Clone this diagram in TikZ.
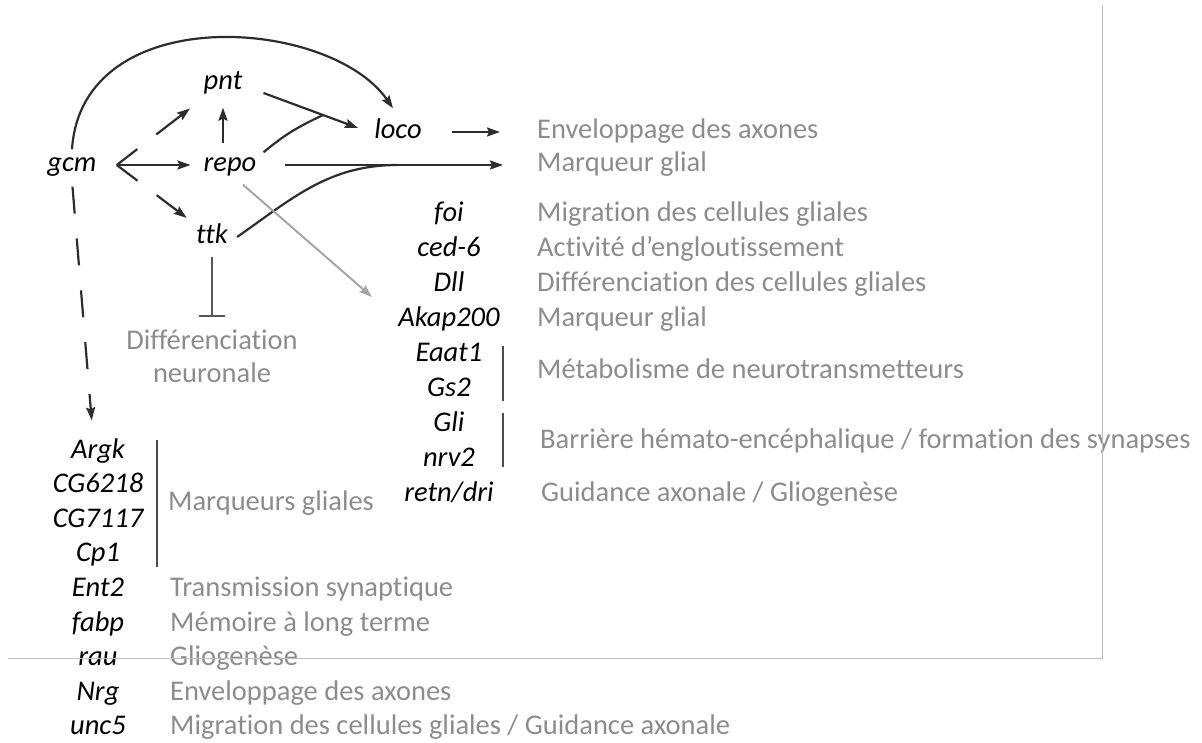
\documentclass[tikz,border=0pt]{standalone}
\usepackage{fontspec}
\setmainfont{Carlito}[Ligatures=CommonOff]
\usetikzlibrary{arrows.meta,positioning,calc}

\definecolor{ink}{RGB}{45,45,45}
\definecolor{notegray}{RGB}{140,140,140}
\definecolor{arrowgray}{RGB}{165,165,165}
\definecolor{framegray}{RGB}{190,190,190}
\newcommand{\diagfont}{\fontsize{28.5}{33}\selectfont}

\begin{document}
\begin{tikzpicture}[
    x=1pt, y=1pt,
    node distance=3.6pt,
    gene/.style={font=\diagfont\itshape, inner sep=2pt, text height=20pt, text depth=7pt},
    note/.style={font=\diagfont, text=notegray, anchor=west, inner sep=0pt, text height=20pt, text depth=7pt},
    link/.style={-{Stealth[length=13pt,width=9pt,inset=2pt]}, line width=2.2pt, draw=ink},
    wire/.style={line width=2.2pt, draw=ink},
    gapped/.style={dash pattern=on 26pt off 24pt on 200pt off 24pt},
    glink/.style={-{Stealth[length=13pt,width=9pt,inset=2pt]}, line width=2pt, draw=arrowgray},
    block/.style={-{Bar[width=26pt]}, line width=2.2pt, draw=ink!80},
    brace/.style={line width=2.2pt, draw=ink!85},
    frame/.style={draw=framegray, line width=0.8pt}
]
\useasboundingbox (0,0) rectangle (1202,742);

% regulators
\node[gene] (gcm) at (72,577) {gcm};
\node[gene] (pnt) at (223,659) {pnt};
\node[gene] (repo) at (230,577) {repo};
\node[gene] (loco) at (398,610) {loco};
\node[gene] (ttk) at (212,505) {ttk};
\node[font=\diagfont, text=notegray, align=center, inner sep=0pt] (diffn) at (212,386) {Différenciation\\neuronale};

\coordinate (labx) at (537,0);
\coordinate (barx) at (503,0);
\coordinate (labl) at (170,0);
\coordinate (barl) at (157,0);

\node[note] (env) at (loco -| labx) {Enveloppage des axones};
\node[note] (mg) at (repo -| labx) {Marqueur glial};

% repo targets
\node[gene] (foi) at (449,527) {foi};
\node[gene, below=of foi] (ced) {ced-6};
\node[gene, below=of ced] (dll) {Dll};
\node[gene, below=of dll] (akap) {Akap200};
\node[gene, below=of akap] (eaat) {Eaat1};
\node[gene, below=of eaat] (gs) {Gs2};
\node[gene, below=of gs] (gli) {Gli};
\node[gene, below=of gli] (nrv) {nrv2};
\node[gene, below=of nrv] (retn) {retn/dri};

\coordinate (eg) at ($(eaat)!0.5!(gs)$);
\coordinate (gn) at ($(gli)!0.5!(nrv)$);
\node[note] (t-foi) at (foi -| labx) {Migration des cellules gliales};
\node[note] (t-ced) at (ced -| labx) {Activité d’engloutissement};
\node[note] (t-dll) at (dll -| labx) {Différenciation des cellules gliales};
\node[note] (t-akap) at (akap -| labx) {Marqueur glial};
\node[note] (t-eg) at (eg -| labx) {Métabolisme de neurotransmetteurs};
\node[note] (t-gn) at ([xshift=3pt]gn -| labx) {Barrière hémato-encéphalique / formation des synapses};
\node[note] (t-retn) at ([xshift=4pt]retn -| labx) {Guidance axonale / Gliogenèse};
\draw[brace, shorten <=7pt, shorten >=5pt] (eaat.north -| barx) -- (gs.south -| barx);
\draw[brace, shorten <=4pt, shorten >=9pt] (gli.north -| barx) -- (nrv.south -| barx);

% gcm targets
\node[gene] (argk) at (98,290) {Argk};
\node[gene, below=3.1pt of argk] (cg62) {CG6218};
\node[gene, below=3.1pt of cg62] (cg71) {CG7117};
\node[gene, below=3.1pt of cg71] (cp) {Cp1};
\node[gene, below=3.1pt of cp] (ent) {Ent2};
\node[gene, below=3.1pt of ent] (fabp) {fabp};
\node[gene, below=3.1pt of fabp] (rau) {rau};
\node[gene, below=3.1pt of rau] (nrg) {Nrg};
\node[gene, below=3.1pt of nrg] (unc) {unc5};

\coordinate (mgl) at ($(cg62)!0.5!(cg71)$);
\node[note] (t-mgl) at ([xshift=-2pt]mgl -| labl) {Marqueurs gliales};
\node[note] (t-ent) at (ent -| labl) {Transmission synaptique};
\node[note] (t-fabp) at (fabp -| labl) {Mémoire à long terme};
\node[note] (t-rau) at (rau -| labl) {Gliogenèse};
\node[note] (t-nrg) at (nrg -| labl) {Enveloppage des axones};
\node[note] (t-unc) at (unc -| labl) {Migration des cellules gliales / Guidance axonale};
\draw[brace, shorten <=4pt, shorten >=4pt] (argk.north -| barl) -- (cp.south -| barl);

% connectors
\coordinate (split) at ([xshift=18pt]gcm.east);
\coordinate (pout) at ([shift={(19pt,-10pt)}]pnt.east);
\coordinate (lin) at ([shift={(-14pt,4pt)}]loco.west);
\coordinate (gtip) at (372,445);

\draw[link] (gcm.north) .. controls +(10,150) and +(-63,91) .. ([shift={(-5pt,8pt)}]loco.north);
\draw[link, gapped, shorten >=16pt] (split) -- (pnt);
\draw[link, shorten >=11pt] (split) -- (repo);
\draw[link, gapped, shorten >=9pt] (split) -- (ttk);
\draw[link, shorten <=6pt, shorten >=9pt] (pnt.south |- repo.north) -- (pnt.south);
\draw[link] (pout) -- (lin);
\draw[wire] ([shift={(5pt,-3pt)}]repo.north east) to[out=40,in=205] ($(pout)!0.63!(lin)$);
\draw[link, shorten <=28pt, shorten >=37pt] (loco.east) -- (env.west);
\draw[link, shorten <=26pt, shorten >=34pt] (repo.east) -- (mg.west);
\draw[wire] ([xshift=7pt]ttk.east) to[out=35,in=180] (repo.east -| loco);
\draw[glink] ([shift={(13pt,-4pt)}]repo.south) -- (gtip);
\draw[block, shorten <=4pt, shorten >=12pt] (ttk.south) -- (diffn.north);
\draw[link, dash pattern=on 27pt off 25pt, shorten <=6pt, shorten >=16pt] (gcm.south) -- ([xshift=-5pt]argk.north);

% page frame
\draw[frame] (8,84) -| (1102,737);
\end{tikzpicture}
\end{document}
